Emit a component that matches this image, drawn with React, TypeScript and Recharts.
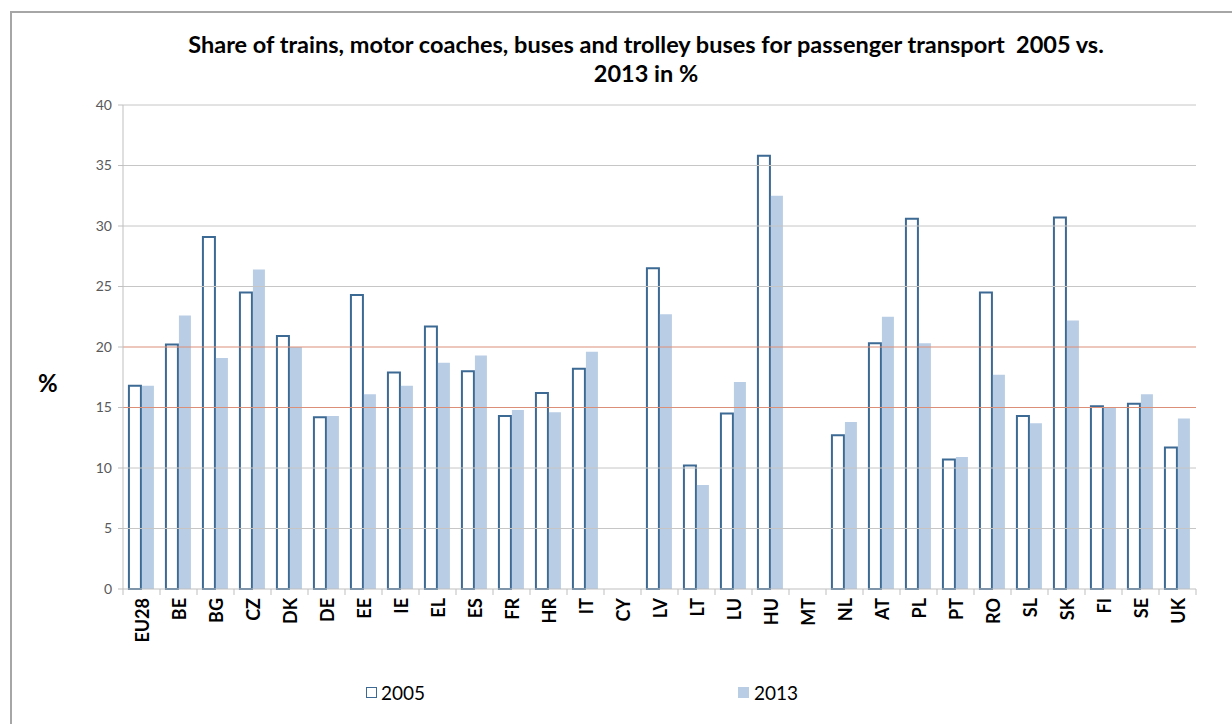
import { BarChart, Bar, XAxis, YAxis, ReferenceLine, Legend } from 'recharts';

const countries = [
  'EU28', 'BE', 'BG', 'CZ', 'DK', 'DE', 'EE', 'IE', 'EL', 'ES', 'FR', 'HR', 'IT', 'CY', 'LV',
  'LT', 'LU', 'HU', 'MT', 'NL', 'AT', 'PL', 'PT', 'RO', 'SL', 'SK', 'FI', 'SE', 'UK',
];
const share2005 = [
  16.8, 20.2, 29.1, 24.5, 20.9, 14.2, 24.3, 17.9, 21.7, 18.0, 14.3, 16.2, 18.2, null, 26.5,
  10.2, 14.5, 35.8, null, 12.7, 20.3, 30.6, 10.7, 24.5, 14.3, 30.7, 15.1, 15.3, 11.7,
];
const share2013 = [
  16.8, 22.6, 19.1, 26.4, 20.0, 14.3, 16.1, 16.8, 18.7, 19.3, 14.8, 14.6, 19.6, null, 22.7,
  8.6, 17.1, 32.5, null, 13.8, 22.5, 20.3, 10.9, 17.7, 13.7, 22.2, 15.0, 16.1, 14.1,
];
const yTicks = [0, 5, 10, 15, 20, 25, 30, 35, 40];
const highlightLines = [15, 20];

const data = countries.map((c, i) => ({ country: c, y2005: share2005[i], y2013: share2013[i] }));

const W = 1232;
const H = 724;
const PLOT_LEFT = 123;
const PLOT_RIGHT = 1196;
const PLOT_TOP = 105;
const PLOT_BOTTOM = 589;
const BAND = (PLOT_RIGHT - PLOT_LEFT) / countries.length;
const FONT = 'Lato, "Open Sans", sans-serif';
const GRID = '#c6c6c6';
const RED_GRID = '#dc8f78';

function CountryTick(props: any) {
  const { x, y, payload, index } = props;
  const last = index === countries.length - 1;
  return (
    <g>
      <line x1={x - BAND / 2} x2={x - BAND / 2} y1={y} y2={y + 6} stroke="#bfbfbf" />
      {last && <line x1={x + BAND / 2} x2={x + BAND / 2} y1={y} y2={y + 6} stroke="#bfbfbf" />}
      <text
        x={x}
        y={y + 9}
        transform={`rotate(-90 ${x} ${y + 9})`}
        textAnchor="end"
        dominantBaseline="central"
        fontFamily={FONT}
        fontWeight={700}
        fontSize={18}
        fill="#000"
      >
        {payload.value}
      </text>
    </g>
  );
}

function LegendContent() {
  return (
    <div style={{ position: 'relative', height: 30, fontFamily: FONT, fontSize: 19, color: '#000' }}>
      <div style={{ position: 'absolute', left: 366, top: 0, display: 'flex', alignItems: 'center' }}>
        <span style={{ width: 9, height: 9, border: '1.5px solid #3d6a94', background: '#fff', marginRight: 4 }} />
        <span>2005</span>
      </div>
      <div style={{ position: 'absolute', left: 738, top: 0, display: 'flex', alignItems: 'center' }}>
        <span style={{ width: 11, height: 11, background: '#b9cde5', marginRight: 5 }} />
        <span>2013</span>
      </div>
    </div>
  );
}

export default function App() {
  return (
    <div style={{ position: 'absolute', left: 0, top: 0, width: W, height: H, background: '#fff', overflow: 'hidden' }}>
      <div
        style={{
          position: 'absolute',
          left: 10,
          top: 11,
          width: W,
          height: H,
          borderLeft: '2px solid #a6a6a6',
          borderTop: '2px solid #a6a6a6',
        }}
      />
      <div
        style={{
          position: 'absolute',
          left: 0,
          top: 30,
          width: 1292,
          textAlign: 'center',
          fontFamily: FONT,
          fontWeight: 700,
          fontSize: 23.5,
          lineHeight: '29px',
          color: '#000',
        }}
      >
        Share of trains, motor coaches, buses and trolley buses for passenger transport&nbsp; 2005 vs.
        <br />
        2013 in %
      </div>
      <div
        style={{
          position: 'absolute',
          left: 38,
          top: 368,
          fontFamily: FONT,
          fontWeight: 700,
          fontSize: 24,
          color: '#000',
        }}
      >
        %
      </div>
      <BarChart
        width={W}
        height={H}
        data={data}
        margin={{ top: PLOT_TOP, right: W - PLOT_RIGHT, left: PLOT_LEFT - 50, bottom: 0 }}
        barCategoryGap="16%"
        barGap={1}
        style={{ position: 'absolute', left: 0, top: 0 }}
      >
        {/* gridlines, 15 and 20 drawn in red like the original */}
        {yTicks
          .filter((v) => v > 0)
          .map((v) => (
            <ReferenceLine key={`g${v}`} y={v} stroke={highlightLines.includes(v) ? RED_GRID : GRID} />
          ))}
        <XAxis
          dataKey="country"
          interval={0}
          tick={<CountryTick />}
          tickLine={false}
          tickSize={0}
          tickMargin={0}
          axisLine={{ stroke: '#bfbfbf' }}
          height={H - PLOT_BOTTOM - 50}
        />
        <YAxis
          width={50}
          domain={[0, 40]}
          ticks={yTicks}
          interval={0}
          axisLine={{ stroke: '#bfbfbf' }}
          tickLine={{ stroke: '#bfbfbf' }}
          tickSize={5}
          tickMargin={6}
          tick={{ fontFamily: FONT, fontSize: 14, fill: '#595959' }}
        />
        <Legend verticalAlign="bottom" height={50} content={<LegendContent />} wrapperStyle={{ left: 0, width: W, top: 681 }} />
        <Bar dataKey="y2005" name="2005" fill="#ffffff" stroke="#3d6a94" strokeWidth={2} isAnimationActive={false} />
        <Bar dataKey="y2013" name="2013" fill="#b9cde5" isAnimationActive={false} />
      </BarChart>
    </div>
  );
}
